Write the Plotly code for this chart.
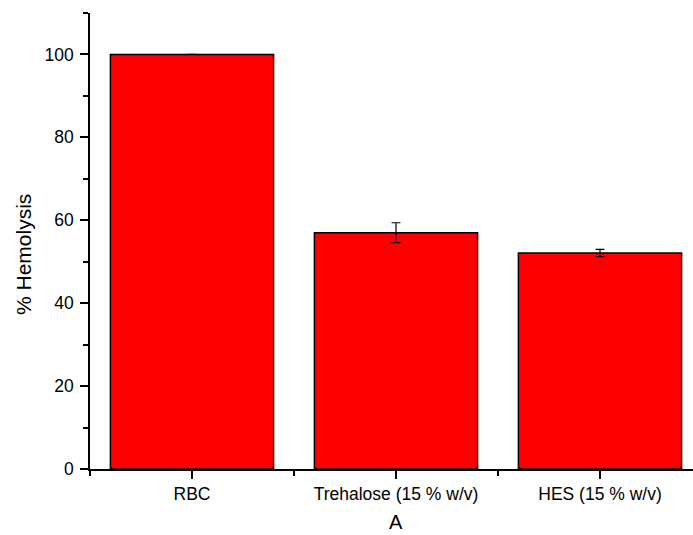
import plotly.graph_objects as go

categories = ["RBC", "Trehalose (15 % w/v)", "HES (15 % w/v)"]
positions = [0, 1, 2]
hemolysis = [100, 57.0, 52.1]
errors = [0, 2.4, 0.9]

W, H = 693, 535
L, T, B, R = 90, 13, 66, 0
pw = W - L - R
ph = H - T - B

fig = go.Figure()
fig.add_trace(go.Bar(
    x=positions, y=hemolysis, width=0.8,
    marker=dict(color="#FF0000", line=dict(color="black", width=1.5)),
    error_y=dict(type="data", array=errors, visible=True, color="black",
                 thickness=1.2, width=4.5),
))

fig.update_layout(
    width=W, height=H,
    margin=dict(l=L, r=R, t=T, b=B, pad=0),
    paper_bgcolor="white", plot_bgcolor="white",
    showlegend=False,
    font=dict(family="Liberation Sans, Arial, sans-serif", size=17.5, color="black"),
    xaxis=dict(
        range=[-0.5, -0.5 + pw / 204.0],
        tickmode="array", tickvals=positions, ticktext=categories,
        ticks="outside", ticklen=8, tickwidth=1.5, tickcolor="black",
        showline=True, linecolor="black", linewidth=1.5,
        showgrid=False, zeroline=False,
        minor=dict(tickvals=[-0.5, 0.5, 1.5, 2.5], ticks="outside", ticklen=5,
                   tickwidth=1.5, tickcolor="black", showgrid=False),
        tickfont=dict(size=17.5),
    ),
    yaxis=dict(
        range=[0, 110],
        tickmode="linear", tick0=0, dtick=20,
        ticks="outside", ticklen=8, tickwidth=1.5, tickcolor="black",
        showline=True, linecolor="black", linewidth=1.5,
        showgrid=False, zeroline=False,
        ticklabelstandoff=3,
        minor=dict(dtick=10, ticks="outside", ticklen=5, tickwidth=1.5,
                   tickcolor="black", showgrid=False),
        tickfont=dict(size=17.5),
    ),
    annotations=[
        dict(text="% Hemolysis", textangle=-90, xref="paper", yref="paper",
             x=(23 - L) / pw, y=(469 - 255) / ph, xanchor="center", yanchor="middle",
             showarrow=False, font=dict(size=21)),
        dict(text="A", xref="x", yref="paper", x=1, y=(469 - 522) / ph,
             xanchor="center", yanchor="middle", showarrow=False, font=dict(size=20),
             borderpad=0),
    ],
)

fig.write_html("out.html", config={"displayModeBar": False},
               post_script="document.body.style.margin='0';document.body.style.overflow='hidden';")
